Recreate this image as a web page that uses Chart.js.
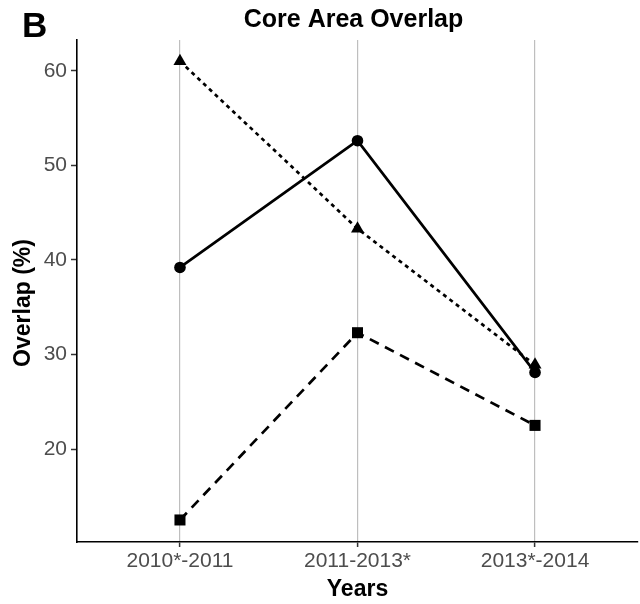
<!DOCTYPE html>
<html>
<head>
<meta charset="utf-8">
<script src="https://cdn.jsdelivr.net/npm/chart.js@4/dist/chart.umd.min.js"></script>
<style>
  html, body { margin: 0; padding: 0; background: #ffffff; }
  #wrap { width: 640px; height: 604px; position: relative; }
</style>
</head>
<body>
<div id="wrap"><canvas id="chart"></canvas></div>
<script>
// Survey periods on the x axis
const periods = ['2010*-2011', '2011-2013*', '2013*-2014'];
// Core area overlap (%) for the three pairings
const overlapSolid  = [39.2, 52.6, 28.1];
const overlapDotted = [61.0, 43.3, 28.9];
const overlapDashed = [12.5, 32.3, 22.5];
// Y axis tick labels
const yTicks = [20, 30, 40, 50, 60];

const FONT = '"Liberation Sans", Arial, Helvetica, sans-serif';

function toPoints(values) {
  return values.map((v, i) => ({ x: i + 1, y: v }));
}

// Panel letter, centred title and the rotated y axis title
const headerPlugin = {
  id: 'header',
  afterDraw(chart) {
    const ctx = chart.ctx;
    const area = chart.chartArea;
    ctx.save();
    ctx.fillStyle = '#000000';
    ctx.textBaseline = 'alphabetic';
    ctx.textAlign = 'left';
    ctx.font = 'bold 35px ' + FONT;
    ctx.fillText('B', 22, 37);
    ctx.textAlign = 'center';
    ctx.font = 'bold 25px ' + FONT;
    ctx.fillText('Core Area Overlap', (area.left + area.right) / 2 - 4, 27);
    ctx.translate(30, 303);
    ctx.rotate(-Math.PI / 2);
    ctx.font = 'bold 23px ' + FONT;
    ctx.fillText('Overlap (%)', 0, 0);
    ctx.restore();
  }
};

const lineStyle = {
  borderColor: '#000000',
  backgroundColor: '#000000',
  pointBackgroundColor: '#000000',
  pointBorderColor: '#000000',
  borderWidth: 2.7,
  pointBorderWidth: 0,
  tension: 0,
  fill: false
};

new Chart(document.getElementById('chart'), {
  type: 'line',
  data: {
    datasets: [
      Object.assign({}, lineStyle, {
        label: 'solid',
        data: toPoints(overlapSolid),
        pointStyle: 'circle',
        pointRadius: 5.8,
        order: 0
      }),
      Object.assign({}, lineStyle, {
        label: 'dotted',
        data: toPoints(overlapDotted),
        borderDash: [4, 4],
        pointStyle: 'triangle',
        pointRadius: 7.5,
        order: 1
      }),
      Object.assign({}, lineStyle, {
        label: 'dashed',
        data: toPoints(overlapDashed),
        borderDash: [10, 7],
        pointStyle: 'rect',
        pointRadius: 7.8,
        order: 2
      })
    ]
  },
  options: {
    responsive: true,
    maintainAspectRatio: false,
    animation: false,
    layout: { autoPadding: false, padding: { top: 40, right: 2, left: 0, bottom: 0 } },
    plugins: {
      legend: { display: false },
      tooltip: { enabled: false },
      title: { display: false }
    },
    scales: {
      x: {
        type: 'linear',
        min: 0.42,
        max: 3.58,
        afterBuildTicks(scale) {
          scale.ticks = periods.map((p, i) => ({ value: i + 1 }));
        },
        afterFit(scale) {
          scale.height = 62;
          scale.paddingLeft = 0;
          scale.paddingRight = 0;
        },
        grid: {
          display: true,
          drawOnChartArea: true,
          drawTicks: true,
          tickLength: 5,
          color: '#BEBEBE',
          lineWidth: 1.2,
          tickColor: '#333333',
          tickWidth: 1.5
        },
        border: { display: true, color: '#000000', width: 1.6 },
        ticks: {
          padding: 2,
          color: '#4D4D4D',
          font: { family: FONT, size: 21 },
          maxRotation: 0,
          autoSkip: false,
          callback: (v) => periods[v - 1]
        },
        title: {
          display: true,
          text: 'Years',
          color: '#000000',
          font: { family: FONT, size: 23, weight: 'bold' },
          padding: { top: 0, bottom: 1 }
        }
      },
      y: {
        type: 'linear',
        min: 10.17,
        max: 63.25,
        afterBuildTicks(scale) {
          scale.ticks = yTicks.map(v => ({ value: v }));
        },
        afterFit(scale) {
          scale.width = 77;
          scale.paddingTop = 0;
          scale.paddingBottom = 0;
        },
        grid: {
          display: true,
          drawOnChartArea: false,
          drawTicks: true,
          tickLength: 6,
          tickColor: '#333333',
          tickWidth: 1.5
        },
        border: { display: true, color: '#000000', width: 1.6 },
        ticks: {
          padding: 4,
          color: '#4D4D4D',
          font: { family: FONT, size: 21 },
          callback: (v) => String(v)
        },
        title: { display: false }
      }
    }
  },
  plugins: [headerPlugin]
});
</script>
</body>
</html>
